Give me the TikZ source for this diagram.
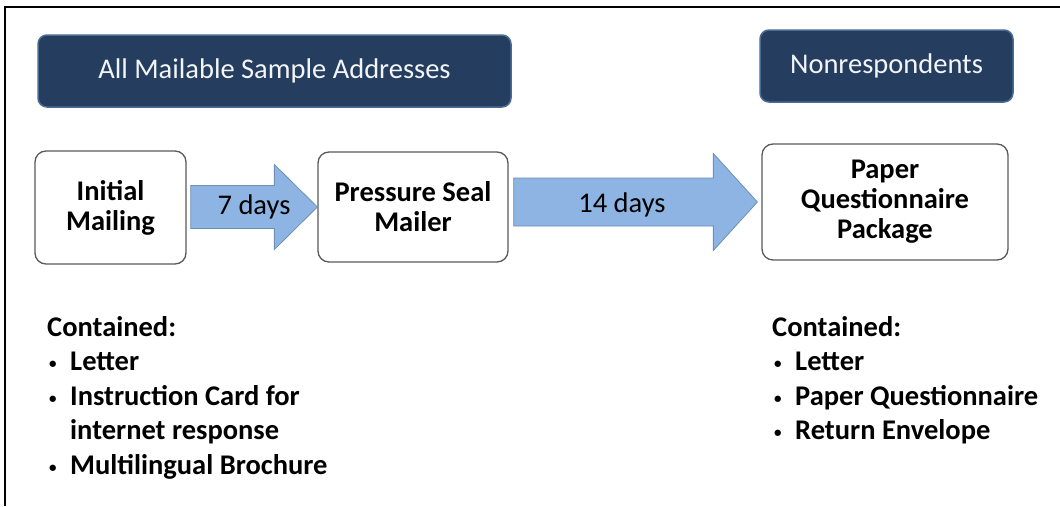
\documentclass[tikz,border=0pt]{standalone}
\usepackage{fontspec}
\setmainfont{Carlito}
\usetikzlibrary{calc}
\definecolor{navy}{HTML}{253E60}
\definecolor{navyedge}{HTML}{4A6B92}
\definecolor{arrowfill}{HTML}{8DB4E2}
\definecolor{arrowedge}{HTML}{6F8FB5}
\definecolor{boxedge}{HTML}{5A5A5A}
\tikzset{
  banner/.style={draw=navyedge, line width=1.5pt, fill=navy, rounded corners=9pt,
    text=white!94!navy, font=\fontsize{28.5}{32}\selectfont, inner sep=0pt},
  stepbox/.style={draw=boxedge, line width=1.3pt, fill=white, rounded corners=11pt,
    align=center, font=\bfseries\fontsize{28.5}{30}\selectfont, inner sep=0pt},
  bigarrow/.style={draw=arrowedge, line width=0.8pt, fill=arrowfill},
  arrowlabel/.style={font=\fontsize{28.5}{32}\selectfont, inner sep=0pt},
  contents/.style={anchor=north west, align=left, inner sep=0pt,
    font=\bfseries\fontsize{28.5}{34.5}\selectfont},
  frameline/.style={line width=2.4pt, black}
}
\newcommand{\bul}{\makebox[23pt][l]{\hspace*{2pt}{\fontsize{15}{15}\selectfont\raisebox{2pt}{\textbullet}}}}
\newcommand{\ind}{\hspace*{23pt}}
\begin{document}
\begin{tikzpicture}[x=1pt,y=-1pt]
\useasboundingbox (0,0) rectangle (1060,506);
\fill[white] (0,0) rectangle (1060,506);
% frame
\coordinate (fl) at (5,506);
\coordinate (fc) at (5,7);
\coordinate (fr) at (1060,7);
\draw[frameline] (fl) -- (fc) -- (fr);

% group banners
\node[banner, minimum width=473pt, minimum height=72pt] (all) at (274.5,71) {All Mailable Sample Addresses};
\node[banner, minimum width=253pt, minimum height=72pt] (non) at (886.5,66) {Nonrespondents};

% mailing steps
\node[stepbox, minimum width=151pt, minimum height=113pt] (im) at (110.5,207.5) {Initial\\Mailing};
\node[stepbox, minimum width=190pt, minimum height=110pt] (pm) at (413,207) {Pressure Seal\\Mailer};
\node[stepbox, minimum width=246pt, minimum height=116pt] (pq) at (885,202) {Paper\\Questionnaire\\Package};

% block arrows between the steps
\draw[bigarrow]
  let \p1=(im.east), \p2=(pm.west) in
  (\x1+4,\y2-21.5) -- (\x2-43,\y2-21.5) -- (\x2-43,\y2-42.5) -- (\x2,\y2)
  -- (\x2-43,\y2+42.5) -- (\x2-43,\y2+21.5) -- (\x1+4,\y2+21.5) -- cycle;
\node[arrowlabel] (d7) at ($(im.east)!0.5!(pm.west)+(2,0)$) {7 days};

\draw[bigarrow]
  let \p1=(pm.east), \p2=(pq.west) in
  (\x1+5,\y2-24) -- (\x2-48,\y2-24) -- (\x2-48,\y2-48.5) -- (\x2-4,\y2)
  -- (\x2-48,\y2+48.5) -- (\x2-48,\y2+24) -- (\x1+5,\y2+24) -- cycle;
\node[arrowlabel] (d14) at ($(pm.east)!0.5!(pq.west)+(-13,0)$) {14 days};

% package contents
\node[contents] (c1) at (47,316) {Contained:\\
  \bul Letter\\
  \bul Instruction Card for\\
  \ind internet response\\
  \bul Multilingual Brochure};
\node[contents] (c2) at (772,316) {Contained:\\
  \bul Letter\\
  \bul Paper Questionnaire\\
  \bul Return Envelope};
\end{tikzpicture}
\end{document}
